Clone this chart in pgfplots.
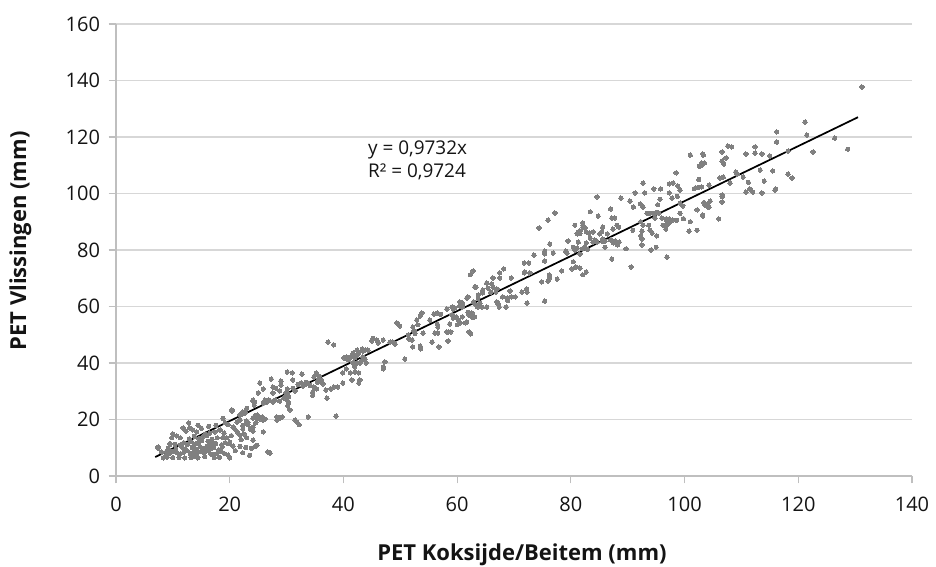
\documentclass[border=0pt]{standalone}
\usepackage{fontspec}
\setmainfont{Open Sans}
\usepackage{pgfplots}
\pgfplotsset{compat=1.18}
\definecolor{axgray}{RGB}{191,191,191}
\definecolor{gridgray}{RGB}{215,215,215}
\definecolor{ptgray}{RGB}{128,128,128}
\definecolor{txt}{RGB}{20,20,20}

\begin{document}
\begin{tikzpicture}
\useasboundingbox (-87pt,-68.25pt) rectangle (615pt,357pt);
\begin{axis}[
    at={(0,0)}, anchor=south west,
    scale only axis,
    width=597pt, height=339pt,
    xmin=0, xmax=140, ymin=0, ymax=160,
    xtick distance=20, ytick distance=20,
    axis lines*=left,
    axis line style={draw=axgray, line width=0.9pt, -},
    tick align=outside,
    major tick length=5.5pt,
    tick style={draw=axgray, line width=0.9pt},
    ymajorgrids,
    major grid style={draw=gridgray, line width=0.9pt},
    /pgf/number format/assume math mode=true,
    ticklabel style={font=\fontsize{15}{18}\selectfont, text=txt},
    xticklabel style={yshift=-7pt},
    yticklabel style={xshift=-3pt},
    xlabel={PET Koksijde/Beitem (mm)},
    ylabel={PET Vlissingen (mm)},
    label style={font=\fontsize{16.5}{19}\selectfont\bfseries, text=txt},
    xlabel style={at={(axis description cs:0.51,-0.174)}, anchor=center},
    ylabel style={at={(axis description cs:-0.12,0.52)}, anchor=center},
    clip=false,
]
\addplot[only marks, color=ptgray, mark=*, mark size=1.6pt, mark options={draw=ptgray, fill=ptgray, line width=0pt}] table {
x y
7.4 9.9
8.3 6.4
7.4 10.3
8.0 8.5
8.8 7.2
9.2 9.8
9.5 11.2
9.8 13.5
10.0 14.9
10.7 14.2
11.3 13.5
11.8 17.0
12.3 15.9
13.0 17.0
13.5 16.3
14.2 15.6
12.8 18.8
15.7 14.9
16.5 15.2
17.4 15.6
18.3 16.3
17.8 13.5
18.8 13.5
19.5 13.5
20.0 12.0
21.3 15.6
21.8 14.5
22.5 14.9
23.0 13.5
24.1 15.9
24.1 12.7
25.9 15.6
9.5 11.5
10.4 11.2
11.3 11.0
11.9 11.8
12.6 11.2
13.2 12.2
13.9 11.3
14.5 11.6
15.1 12.5
16.2 12.3
16.8 11.2
17.5 11.5
18.6 11.1
19.2 11.8
19.8 11.4
20.6 10.6
21.8 10.5
22.8 10.1
23.8 9.8
24.4 10.4
24.8 10.9
8.9 8.7
9.5 8.1
10.1 8.8
10.7 8.2
11.3 7.8
11.9 8.4
12.5 8.9
13.1 7.9
13.7 8.5
14.2 8.0
14.9 8.6
15.5 8.2
16.1 8.9
16.7 7.8
17.3 7.6
17.9 8.4
18.5 8.8
19.1 7.9
9.0 6.7
10.0 6.5
11.1 6.6
12.1 6.4
13.2 6.5
13.8 6.8
14.4 6.4
15.6 6.8
17.3 6.5
18.2 6.6
19.7 7.4
20.0 6.4
26.7 8.5
27.1 8.1
10.5 9.5
11.6 10.2
12.2 9.6
13.4 10.1
14.1 9.4
14.8 10.3
15.4 9.8
16.0 10.5
16.6 9.6
17.2 10.1
18.1 9.3
18.7 10.4
12.9 13.1
13.8 14.0
14.6 13.2
15.3 13.9
16.0 14.4
16.9 13.0
15.0 16.9
16.3 17.6
14.4 18.0
19.0 15.2
20.3 14.3
20.8 16.9
22.0 12.8
21.0 9.0
22.3 8.2
23.5 7.3
20.4 23.4
21.3 19.1
21.8 19.8
22.9 19.5
23.2 18.1
19.2 18.8
19.7 18.1
20.6 17.3
24.1 26.9
24.4 26.2
25.9 25.8
24.8 21.6
25.3 20.2
26.0 20.2
17.6 17.9
18.8 20.4
23.0 24.0
22.3 22.7
22.2 21.9
21.8 21.6
22.7 22.3
24.4 21.2
24.1 20.5
24.8 20.2
24.6 18.8
24.1 17.3
23.2 18.8
23.6 16.6
22.3 17.9
22.3 16.6
20.4 23.0
25.7 20.9
26.2 20.2
25.9 19.8
28.3 20.9
28.8 20.5
28.3 19.8
29.2 20.9
31.5 19.8
31.8 19.1
32.2 18.1
33.8 20.9
38.7 21.2
24.1 26.5
24.3 25.1
26.2 26.9
26.6 26.2
26.9 26.9
28.0 26.9
27.6 26.2
29.5 27.6
30.1 26.9
30.4 25.8
30.2 24.8
30.6 23.4
28.8 26.5
25.9 30.8
25.0 29.4
27.6 31.5
28.1 31.1
27.6 29.4
28.8 30.1
30.1 30.8
29.9 29.4
30.2 29.0
30.1 28.3
30.4 28.0
31.1 31.1
31.5 30.1
34.8 31.5
35.3 30.8
34.6 29.7
36.9 30.4
37.8 30.8
38.3 31.5
39.0 31.5
34.6 28.6
37.1 27.6
25.3 32.9
27.3 34.3
29.0 33.6
29.0 32.2
30.1 36.8
31.0 36.5
31.1 34.0
32.0 32.4
32.6 33.0
33.2 32.3
33.8 32.8
34.1 32.1
32.9 31.8
33.5 33.2
35.5 33.9
35.4 33.2
36.0 33.6
36.4 32.6
36.2 33.8
35.7 34.5
32.7 36.1
35.2 36.5
35.7 35.4
34.8 35.0
37.3 47.4
38.3 46.4
44.3 44.6
41.7 43.5
42.4 42.8
41.9 42.1
40.5 42.1
40.6 41.4
40.1 41.8
41.0 41.4
43.4 42.1
43.8 41.4
42.9 40.0
44.0 40.0
41.7 40.0
42.0 38.6
42.0 36.8
40.5 37.9
39.9 36.5
41.2 36.5
42.7 36.5
42.9 34.0
42.7 32.9
41.5 34.0
39.9 32.9
43.8 44.6
43.3 45.0
43.4 44.2
42.4 44.6
42.7 43.5
41.5 42.5
41.2 42.1
42.0 41.8
42.4 40.0
43.4 41.1
50.8 41.4
47.3 40.4
47.0 38.6
47.0 37.9
45.0 47.8
45.2 48.8
45.9 48.1
46.1 47.1
47.0 48.1
48.2 47.4
48.7 47.4
49.1 46.7
51.5 48.5
52.1 48.1
49.4 54.2
49.9 53.1
52.2 45.7
53.5 46.0
53.6 45.0
56.8 45.7
55.6 47.4
58.4 47.8
51.4 49.9
54.0 50.6
52.4 51.4
52.6 50.5
52.2 52.7
52.9 55.2
53.1 53.5
55.2 55.2
56.5 53.8
56.6 52.7
56.6 50.6
56.1 50.6
53.8 57.7
53.5 56.6
56.5 57.7
57.1 57.2
55.9 57.3
58.2 51.0
58.5 51.0
58.9 51.0
58.7 53.8
60.0 53.5
60.5 54.2
60.3 55.1
59.1 57.0
59.3 55.9
59.8 56.3
58.2 59.1
59.1 59.8
59.3 59.1
59.6 59.5
60.9 61.2
61.0 60.5
60.5 60.2
63.3 60.5
62.1 57.0
62.6 56.3
62.8 56.3
61.7 54.5
61.4 54.2
62.1 51.0
62.4 50.3
62.3 71.2
63.3 66.9
61.9 63.4
63.7 64.1
77.2 93.1
76.0 90.6
74.4 87.8
80.7 88.8
82.1 88.8
82.5 87.8
81.3 86.4
81.1 85.7
81.6 85.9
76.3 82.1
79.5 83.2
81.3 82.8
80.4 81.0
80.7 80.0
81.1 80.7
79.1 79.6
79.3 78.9
82.5 81.0
82.9 80.3
75.4 79.6
75.4 78.6
76.9 78.9
73.5 78.2
75.4 76.1
72.6 75.4
71.8 75.4
71.9 72.2
71.8 71.9
72.8 71.9
80.4 75.8
80.9 74.0
80.2 73.3
78.4 72.6
77.6 69.7
76.2 71.2
76.0 69.0
76.3 70.1
74.9 68.7
82.7 72.2
82.1 71.2
81.6 73.6
68.2 73.3
67.5 71.9
62.8 72.6
65.2 68.3
66.3 70.1
66.1 68.0
66.3 66.9
67.5 70.1
69.5 70.1
65.4 66.5
65.9 65.1
63.1 66.9
64.5 64.8
64.5 65.8
66.8 65.1
67.0 66.2
69.3 65.5
71.4 65.1
72.3 65.1
72.2 66.2
68.0 63.4
68.8 63.0
70.2 63.4
68.9 62.0
69.5 63.4
61.7 63.0
60.5 61.6
61.0 60.9
60.9 59.8
63.7 63.0
62.9 61.6
64.0 61.2
63.6 59.8
64.3 59.8
65.2 59.8
67.0 61.6
67.2 60.9
67.4 59.8
68.6 59.8
72.3 61.2
75.4 61.9
61.9 58.0
62.6 57.7
63.1 56.3
60.9 56.3
103.0 110.0
98.5 107.3
92.7 103.7
97.3 103.4
98.0 103.7
98.8 102.7
99.2 101.2
102.5 105.0
102.0 102.0
102.5 102.2
101.7 101.7
95.8 101.6
94.6 101.6
93.0 100.2
91.3 100.2
88.8 98.4
84.6 98.8
90.4 97.3
91.0 95.2
92.2 96.3
92.7 95.2
95.7 98.0
95.3 96.0
97.3 100.2
97.8 98.4
98.7 99.0
99.2 96.6
99.7 95.6
103.4 96.8
104.1 96.3
104.1 95.2
102.2 94.2
83.4 93.5
84.8 92.0
87.0 94.5
87.2 91.3
87.7 91.3
93.4 93.0
93.9 93.0
94.5 93.0
95.1 93.3
95.5 93.0
94.8 91.3
96.0 91.3
96.8 91.1
97.3 91.0
97.9 90.6
98.6 90.5
99.2 93.0
99.8 91.1
101.0 90.0
103.2 92.4
102.2 87.0
96.9 90.2
97.3 89.6
92.3 90.0
92.7 88.8
96.2 88.8
96.9 88.8
96.7 87.4
93.7 88.8
93.9 87.0
94.3 86.0
92.5 86.7
90.9 87.0
88.1 88.8
88.4 88.1
87.4 87.4
82.1 89.6
82.1 88.1
81.6 86.8
82.7 86.4
83.2 86.0
83.9 86.4
85.6 88.1
85.1 85.7
85.4 86.4
86.4 85.7
85.6 83.9
84.2 83.5
84.6 82.8
83.9 82.8
87.0 83.5
87.5 82.5
87.8 83.2
88.2 81.8
88.5 82.8
82.7 82.5
83.4 84.2
92.3 85.0
92.5 83.9
95.1 85.0
92.5 81.8
94.1 80.0
89.7 80.4
86.0 81.0
85.6 83.1
86.0 83.1
95.0 81.0
96.9 77.5
100.8 86.7
87.2 76.8
90.6 74.0
82.0 80.4
81.6 78.6
121.2 125.3
121.5 120.7
122.6 114.7
116.2 121.8
116.2 118.2
118.2 115.0
118.2 106.9
118.9 105.5
115.9 101.2
115.5 108.0
115.0 113.3
113.6 114.0
112.4 116.5
112.4 114.3
110.8 114.0
108.3 116.5
107.6 116.8
106.6 114.7
107.3 112.6
106.6 111.5
106.9 110.4
103.2 114.0
103.2 110.4
102.6 109.6
109.0 107.6
109.2 106.9
106.8 105.8
106.2 105.5
104.3 103.0
103.0 102.3
108.0 103.7
110.3 105.8
111.2 104.0
113.3 108.3
114.0 104.4
110.8 100.5
111.5 101.6
113.6 100.2
106.6 99.5
106.6 98.8
106.6 97.0
104.5 97.3
103.6 95.9
104.3 95.2
103.2 92.0
106.0 91.0
112.0 100.5
116.0 101.6
131.2 137.7
128.7 115.7
126.4 119.6
101.0 113.6
103.3 113.6
103.0 110.8
103.5 110.8
};
\addplot[black, line width=1.3pt] coordinates {(6.9,6.715) (130.5,127.0)};
\node[anchor=north west, align=left, inner sep=0pt, text=txt,
      font=\fontsize{14.2}{17}\selectfont] at (axis cs:44.3,118.8)
      {y = 0,9732x\\R² = 0,9724};
\end{axis}
\end{tikzpicture}
\end{document}
